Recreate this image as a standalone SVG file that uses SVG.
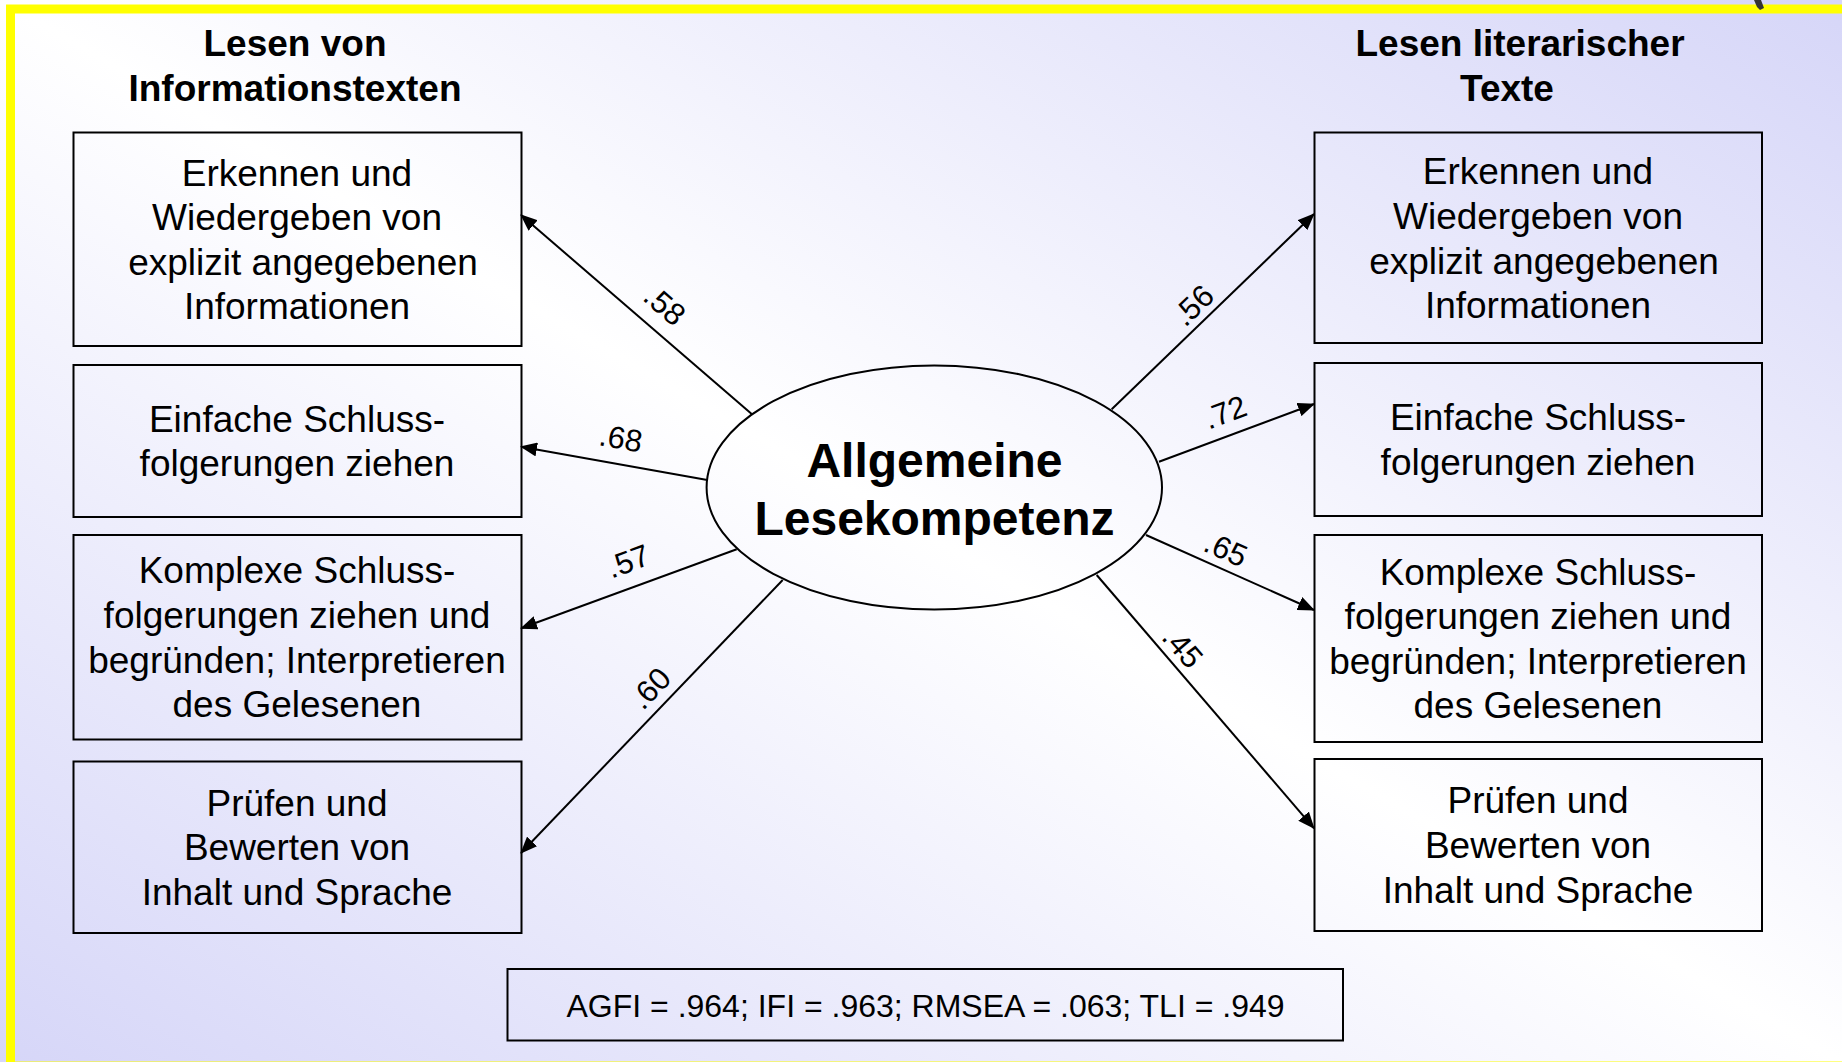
<svg xmlns="http://www.w3.org/2000/svg" width="1842" height="1062" viewBox="0 0 1842 1062">
<defs>
<linearGradient id="bg" x1="0" y1="1" x2="1" y2="0">
<stop offset="0" stop-color="#d6d6f8"/>
<stop offset="0.5" stop-color="#ffffff"/>
<stop offset="1" stop-color="#d6d6f8"/>
</linearGradient>
<marker id="ah" viewBox="0 0 17 14" refX="16" refY="7" markerWidth="17" markerHeight="14" markerUnits="userSpaceOnUse" orient="auto">
<path d="M0,0 L17,7 L0,14 z" fill="#000"/>
</marker>
<style>
.box{fill:none;stroke:#000;stroke-width:2}
.t{font-family:"Liberation Sans",Arial,sans-serif;font-size:37px;fill:#000;text-anchor:middle}
.h{font-family:"Liberation Sans",Arial,sans-serif;font-size:37px;font-weight:bold;fill:#000;text-anchor:middle}
.c{font-family:"Liberation Sans",Arial,sans-serif;font-size:48px;font-weight:bold;fill:#000;text-anchor:middle}
.lbl{font-family:"Liberation Sans",Arial,sans-serif;font-size:31px;fill:#000;text-anchor:middle}
.s{font-family:"Liberation Sans",Arial,sans-serif;font-size:32px;fill:#000;text-anchor:middle}
.con{stroke:#000;stroke-width:2;fill:none;marker-end:url(#ah)}
</style>
</defs>
<rect x="0" y="0" width="1842" height="1062" fill="url(#bg)"/>
<rect x="10.5" y="9" width="1900" height="1057" fill="none" stroke="#ffff00" stroke-width="9"/>
<path d="M1754,0 L1761,0 L1764,8 L1760,10 L1757,7 z" fill="#333"/>

<g id="title-left">
<text class="h" x="295" y="56">Lesen von</text>
<text class="h" x="295" y="101">Informationstexten</text>
</g>
<g id="title-right">
<text class="h" x="1520" y="56">Lesen literarischer</text>
<text class="h" x="1507" y="101">Texte</text>
</g>

<g id="connectors">
<line class="con" x1="751.7" y1="414" x2="521" y2="215"/>
<line class="con" x1="707.3" y1="480" x2="521" y2="446.7"/>
<line class="con" x1="736.7" y1="549.3" x2="521" y2="628.3"/>
<line class="con" x1="782.7" y1="580" x2="521" y2="853"/>
<line class="con" x1="1111.7" y1="409.3" x2="1314" y2="214"/>
<line class="con" x1="1159" y1="461.7" x2="1314" y2="404"/>
<line class="con" x1="1146" y1="535" x2="1314" y2="610"/>
<line class="con" x1="1096.7" y1="575" x2="1314" y2="828.3"/>
<text class="lbl" transform="translate(665,305) rotate(40.8)" y="11">.58</text>
<text class="lbl" transform="translate(621,438) rotate(10.1)" y="11">.68</text>
<text class="lbl" transform="translate(628,561) rotate(-20.1)" y="11">.57</text>
<text class="lbl" transform="translate(650,688) rotate(-46.2)" y="11">.60</text>
<text class="lbl" transform="translate(1193,305) rotate(-44)" y="11">.56</text>
<text class="lbl" transform="translate(1225,412) rotate(-20.4)" y="11">.72</text>
<text class="lbl" transform="translate(1226,549) rotate(23.9)" y="11">.65</text>
<text class="lbl" transform="translate(1183,647) rotate(49.2)" y="11">.45</text>
</g>

<g id="center">
<ellipse cx="934.3" cy="487.5" rx="227.7" ry="122" fill="none" stroke="#000" stroke-width="2"/>
<text class="c" x="934.5" y="477">Allgemeine</text>
<text class="c" x="934.5" y="534.5">Lesekompetenz</text>
</g>

<g id="left-1">
<rect class="box" x="73.5" y="132.5" width="448" height="213.5"/>
<text class="t" x="297" y="185.6">Erkennen und</text>
<text class="t" x="297" y="230.2">Wiedergeben von</text>
<text class="t" x="303" y="274.8">explizit angegebenen</text>
<text class="t" x="297" y="319.4">Informationen</text>
</g>
<g id="left-2">
<rect class="box" x="73.5" y="365" width="448" height="152"/>
<text class="t" x="297" y="431.7">Einfache Schluss-</text>
<text class="t" x="297" y="476.3">folgerungen ziehen</text>
</g>
<g id="left-3">
<rect class="box" x="73.5" y="535" width="448" height="204.5"/>
<text class="t" x="297" y="583.3">Komplexe Schluss-</text>
<text class="t" x="297" y="627.9">folgerungen ziehen und</text>
<text class="t" x="297" y="672.5">begründen; Interpretieren</text>
<text class="t" x="297" y="717.1">des Gelesenen</text>
</g>
<g id="left-4">
<rect class="box" x="73.5" y="761.5" width="448" height="171.5"/>
<text class="t" x="297" y="815.6">Prüfen und</text>
<text class="t" x="297" y="860.2">Bewerten von</text>
<text class="t" x="297" y="904.8">Inhalt und Sprache</text>
</g>

<g id="right-1">
<rect class="box" x="1314.5" y="132.5" width="447.5" height="210.5"/>
<text class="t" x="1538" y="184.4">Erkennen und</text>
<text class="t" x="1538" y="229">Wiedergeben von</text>
<text class="t" x="1544" y="273.6">explizit angegebenen</text>
<text class="t" x="1538" y="318.2">Informationen</text>
</g>
<g id="right-2">
<rect class="box" x="1314.5" y="363" width="447.5" height="153"/>
<text class="t" x="1538" y="430.2">Einfache Schluss-</text>
<text class="t" x="1538" y="474.8">folgerungen ziehen</text>
</g>
<g id="right-3">
<rect class="box" x="1314.5" y="535" width="447.5" height="207"/>
<text class="t" x="1538" y="584.6">Komplexe Schluss-</text>
<text class="t" x="1538" y="629.2">folgerungen ziehen und</text>
<text class="t" x="1538" y="673.8">begründen; Interpretieren</text>
<text class="t" x="1538" y="718.4">des Gelesenen</text>
</g>
<g id="right-4">
<rect class="box" x="1314.5" y="759" width="447.5" height="172"/>
<text class="t" x="1538" y="813.4">Prüfen und</text>
<text class="t" x="1538" y="858">Bewerten von</text>
<text class="t" x="1538" y="902.6">Inhalt und Sprache</text>
</g>

<g id="fit-stats">
<rect class="box" x="507.5" y="969" width="835.5" height="71.5"/>
<text class="s" x="925.5" y="1017">AGFI = .964; IFI = .963; RMSEA = .063; TLI = .949</text>
</g>
</svg>
